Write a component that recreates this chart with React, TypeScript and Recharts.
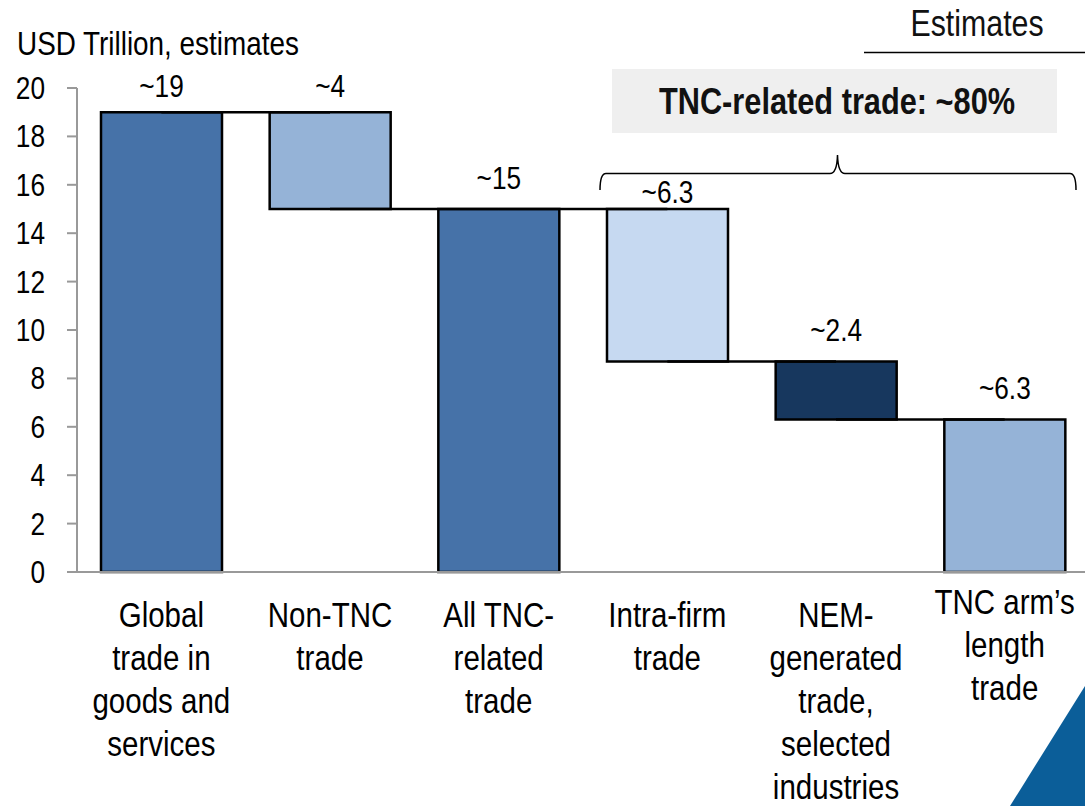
import React from "react";
import { BarChart, Bar, XAxis, YAxis, Cell, LabelList, ReferenceLine } from "recharts";

const categories = [
  "Global\ntrade in\ngoods and\nservices",
  "Non-TNC\ntrade",
  "All TNC-\nrelated\ntrade",
  "Intra-firm\ntrade",
  "NEM-\ngenerated\ntrade,\nselected\nindustries",
  "TNC arm\u2019s\nlength\ntrade",
];
const baseValues = [0, 15, 0, 8.7, 6.3, 0];
const barValues = [19, 4, 15, 6.3, 2.4, 6.3];
const valueLabels = ["~19", "~4", "~15", "~6.3", "~2.4", "~6.3"];
const barColors = ["#4672A8", "#95B3D7", "#4672A8", "#C6D9F1", "#17375E", "#95B3D7"];
const yTicks = [0, 2, 4, 6, 8, 10, 12, 14, 16, 18, 20];
const boundaryTicks = [0, 1, 2, 3, 4, 5, 6];
const axisTitle = "USD Trillion, estimates";
const boxTitle = "TNC-related trade: ~80%";
const cornerTitle = "Estimates";

const data = categories.map((c, i) => ({
  name: c,
  base: baseValues[i],
  value: barValues[i],
  label: valueLabels[i],
}));

const connectors = categories.slice(0, -1).map((c, i) => ({
  from: c,
  to: categories[i + 1],
  level: baseValues[i + 1] + barValues[i + 1],
}));

const FONT = "'Liberation Sans', Arial, sans-serif";
const SX = 0.82;

const NText = (p: any) => {
  const { x, y, anchor = "start", size, weight = "normal", fill = "#000", lines, lh = 0 } = p;
  const arr: string[] = lines;
  return (
    <text
      transform={`translate(${x},${y}) scale(${SX},1)`}
      x={0}
      y={0}
      textAnchor={anchor}
      fontSize={size}
      fontWeight={weight}
      fontFamily={FONT}
      fill={fill}
    >
      {arr.map((l, k) => (
        <tspan key={k} x={0} dy={k === 0 ? 0 : lh}>
          {l}
        </tspan>
      ))}
    </text>
  );
};

const CategoryTick = (props: any) => {
  const { x, y, payload, index } = props;
  const lines = String(payload.value).split("\n");
  const shift = index === 5 ? -13 : 0;
  return <NText x={x} y={y + 47 + shift} anchor="middle" size={36} lines={lines} lh={43} />;
};

const YTick = (props: any) => {
  const { x, y, payload } = props;
  return <NText x={x} y={y + 11} anchor="end" size={32} lines={[String(payload.value)]} />;
};

const ValueLabel = (props: any) => {
  const { x, y, width, index } = props;
  const off = index === 3 ? 6.5 : index < 2 ? 15.5 : 20.5;
  return <NText x={x + width / 2} y={y - off} anchor="middle" size={32} lines={[valueLabels[index]]} />;
};

export default function App() {
  return (
    <div style={{ position: "absolute", left: 0, top: 0, width: 1085, height: 806, overflow: "hidden", background: "#fff" }}>
      <BarChart
        width={1095}
        height={806}
        data={data}
        margin={{ top: 88, right: 6, left: 8, bottom: 0 }}
        barSize={121}
      >
        <XAxis
          xAxisId="b"
          type="number"
          domain={[0, 6]}
          ticks={boundaryTicks}
          tick={false}
          tickSize={9}
          height={0}
          axisLine={false}
          tickLine={{ stroke: "#999", strokeWidth: 2 }}
          allowDataOverflow
        />
        <XAxis
          xAxisId="cat"
          dataKey="name"
          type="category"
          height={234}
          interval={0}
          tickLine={false}
          axisLine={{ stroke: "#999", strokeWidth: 2 }}
          tick={<CategoryTick />}
        />
        <YAxis
          domain={[0, 20]}
          ticks={yTicks}
          width={69}
          tickSize={10}
          tickMargin={22}
          interval={0}
          axisLine={{ stroke: "#999", strokeWidth: 2 }}
          tickLine={{ stroke: "#999", strokeWidth: 2 }}
          tick={<YTick />}
        />
        <Bar xAxisId="cat" dataKey="base" stackId="a" fill="transparent" isAnimationActive={false} />
        <Bar xAxisId="cat" dataKey="value" stackId="a" stroke="#000" strokeWidth={2.5} isAnimationActive={false}>
          {data.map((d, i) => (
            <Cell key={i} fill={barColors[i]} />
          ))}
          <LabelList dataKey="label" content={<ValueLabel />} />
        </Bar>
        {connectors.map((c, i) => (
          <ReferenceLine
            key={i}
            xAxisId="cat"
            segment={[
              { x: c.from, y: c.level },
              { x: c.to, y: c.level },
            ]}
            stroke="#000"
            strokeWidth={2.5}
          />
        ))}
      </BarChart>
      <svg width={1085} height={806} style={{ position: "absolute", left: 0, top: 0, pointerEvents: "none" }}>
        <NText x={17} y={55} size={34} lines={[axisTitle]} />
        <NText x={977} y={36} anchor="middle" size={37} fill="#111" lines={[cornerTitle]} />
        <line x1={864} x2={1085} y1={52.5} y2={52.5} stroke="#000" strokeWidth={1.5} />
        <rect x={612} y={69} width={445} height={64} fill="#EFEFEF" />
        <NText x={837} y={114} anchor="middle" size={37.5} weight="bold" fill="#111" lines={[boxTitle]} />
        <path
          d="M600,190 Q600,173.5 606,173.5 L830,173.5 Q837,173.5 837.5,155 Q838,173.5 845,173.5 L1070,173.5 Q1076,173.5 1076,190"
          fill="none"
          stroke="#000"
          strokeWidth={1.5}
        />
        <polygon points="1010,806 1085,686 1085,806" fill="#0B5E99" />
      </svg>
    </div>
  );
}
